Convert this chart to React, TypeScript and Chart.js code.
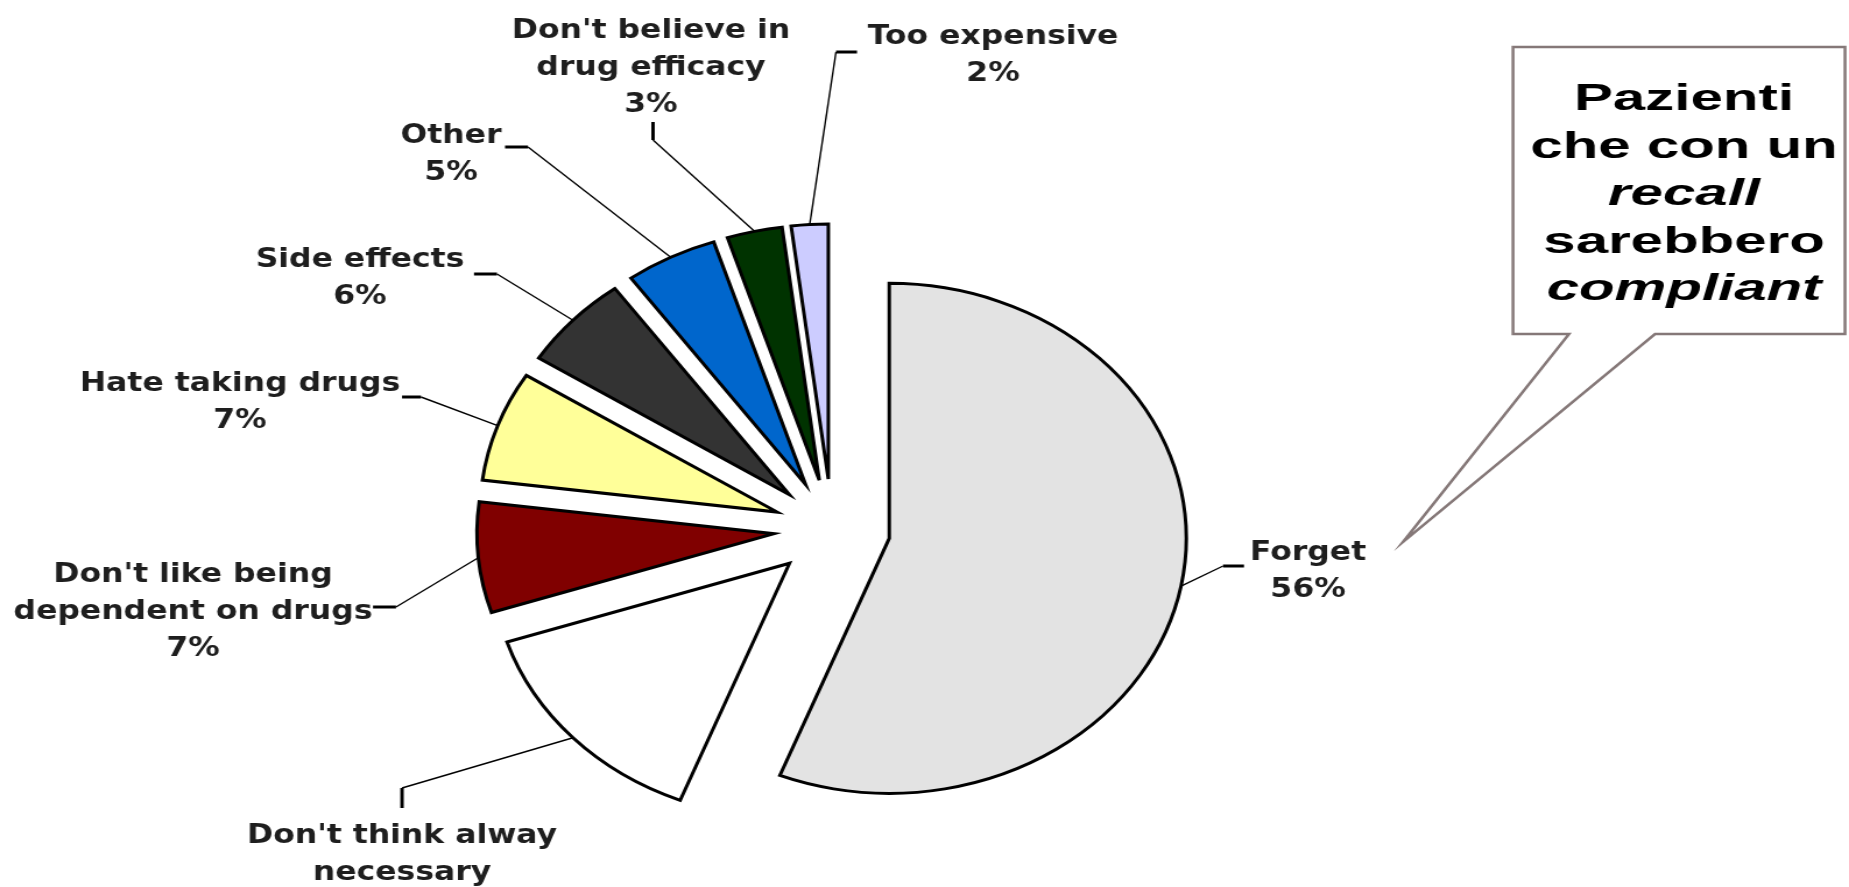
import React, { useEffect, useRef } from "react";
import { Chart, registerables } from "chart.js";

Chart.register(...registerables);

// ---- data ----
const categories = [
  "Forget",
  "Don't think alway\nnecessary",
  "Don't like being\ndependent on drugs",
  "Hate taking drugs",
  "Side effects",
  "Other",
  "Don't believe in\ndrug efficacy",
  "Too expensive",
];
const shares = [56, 14, 7, 7, 6, 5, 3, 2];
const showPercent = [true, false, true, true, true, true, true, true];
const sliceColors = ["#e3e3e3", "#ffffff", "#800000", "#ffff99", "#333333", "#0066cc", "#003300", "#ccccff"];
const calloutLines = ["Pazienti", "che con un", "recall", "sarebbero", "compliant"];
const calloutItalic = [false, false, true, false, true];

// ---- layout (page pixels) ----
const PAGE_W = 1849;
const PAGE_H = 887;
const STRETCH = 1.165;
const CANVAS_W = Math.round(PAGE_W / STRETCH);
const S = PAGE_W / CANVAS_W;
const PIE_RADIUS = 255;
const EXPLODE = 50;
const LABEL_FONT = 'bold 27px "DejaVu Sans"';
const LABEL_LINE = 37;

// text centre x, first baseline y, elbow point, tick end
const labelLayout = [
  { x: 1308, y: 560, elbow: [1223, 566], tick: [1244, 566] },
  { x: 402, y: 843, elbow: [402, 788], tick: [402, 808] },
  { x: 193, y: 582, elbow: [396, 607], tick: [373, 607] },
  { x: 240, y: 391, elbow: [421, 397], tick: [402, 397] },
  { x: 360, y: 267, elbow: [497, 274], tick: [474, 274] },
  { x: 451, y: 143, elbow: [528, 147], tick: [505, 147] },
  { x: 651, y: 38, elbow: [653, 140], tick: [653, 122] },
  { x: 993, y: 44, elbow: [836, 52], tick: [857, 52] },
];

const callout = {
  left: 1513, top: 47, right: 1845, bottom: 334,
  baseL: 1569, baseR: 1655, tipX: 1403, tipY: 542,
  textX: 1684, firstBaseline: 110, lineStep: 47.5, textScale: 1.35, fontSize: 37,
};

const px = (x: number) => x / S;

// Chart.js "offset" also grows the radius and trims the angle of each slice;
// undo those side effects so every exploded slice keeps the same radius and share.
const explodeFixPlugin = {
  id: "explodeFix",
  afterDatasetUpdate(chart: any, args: any) {
    const meta = chart.getDatasetMeta(args.index);
    meta.data.forEach((arc: any) => {
      const fix = 1 - Math.sin(Math.min(Math.PI, arc.circumference || 0));
      const off = EXPLODE * fix;
      arc.outerRadius = PIE_RADIUS - off;
      const widen = off / (Math.PI * PIE_RADIUS) / 2;
      arc.startAngle -= widen;
      arc.endAngle += widen;
    });
  },
};

const annotationPlugin = {
  id: "annotations",
  afterDatasetsDraw(chart: any) {
    const ctx: CanvasRenderingContext2D = chart.ctx;
    const meta = chart.getDatasetMeta(0);
    ctx.save();
    meta.data.forEach((arc: any, i: number) => {
      const lay = labelLayout[i];
      const mid = (arc.startAngle + arc.endAngle) / 2;
      const ex = arc.x + Math.cos(mid) * (EXPLODE + PIE_RADIUS);
      const ey = arc.y + Math.sin(mid) * (EXPLODE + PIE_RADIUS);
      ctx.strokeStyle = "#000";
      ctx.lineWidth = 1.4;
      ctx.beginPath();
      ctx.moveTo(ex, ey);
      ctx.lineTo(px(lay.elbow[0]), lay.elbow[1]);
      ctx.stroke();
      ctx.lineWidth = 3;
      ctx.beginPath();
      ctx.moveTo(px(lay.elbow[0]), lay.elbow[1]);
      ctx.lineTo(px(lay.tick[0]), lay.tick[1]);
      ctx.stroke();

      const lines = categories[i].split("\n");
      if (showPercent[i]) lines.push(shares[i] + "%");
      ctx.fillStyle = "#1e1e1e";
      ctx.font = LABEL_FONT;
      ctx.textAlign = "center";
      ctx.textBaseline = "alphabetic";
      lines.forEach((t, k) => ctx.fillText(t, px(lay.x), lay.y + k * LABEL_LINE));
    });

    // callout box
    const c = callout;
    ctx.beginPath();
    ctx.moveTo(px(c.left), c.top);
    ctx.lineTo(px(c.right), c.top);
    ctx.lineTo(px(c.right), c.bottom);
    ctx.lineTo(px(c.baseR), c.bottom);
    ctx.lineTo(px(c.tipX), c.tipY);
    ctx.lineTo(px(c.baseL), c.bottom);
    ctx.lineTo(px(c.left), c.bottom);
    ctx.closePath();
    ctx.fillStyle = "#ffffff";
    ctx.fill();
    ctx.strokeStyle = "#857878";
    ctx.lineWidth = 2.5;
    ctx.lineJoin = "miter";
    ctx.stroke();

    ctx.fillStyle = "#000";
    ctx.textAlign = "center";
    ctx.textBaseline = "alphabetic";
    calloutLines.forEach((t, k) => {
      ctx.save();
      ctx.translate(px(c.textX), c.firstBaseline + k * c.lineStep);
      ctx.scale(c.textScale, 1);
      ctx.font = (calloutItalic[k] ? "italic " : "") + "bold " + c.fontSize + 'px "Liberation Sans", Arial, sans-serif';
      ctx.fillText(t, 0, 0);
      ctx.restore();
    });
    ctx.restore();
  },
};

export default function App() {
  const ref = useRef<HTMLCanvasElement | null>(null);

  useEffect(() => {
    if (!ref.current) return;
    const padRight = CANVAS_W - 2 * px(832);
    const padTop = 2 * 529 - PAGE_H;
    const chart = new Chart(ref.current, {
      type: "pie",
      data: {
        labels: categories.map((c) => c.replace("\n", " ")),
        datasets: [
          {
            data: shares,
            backgroundColor: sliceColors,
            borderColor: "#000000",
            borderWidth: 3,
            borderJoinStyle: "miter",
            offset: EXPLODE * 4,
            radius: PIE_RADIUS,
          } as any,
        ],
      },
      options: {
        responsive: false,
        animation: false,
        events: [],
        layout: { padding: { left: 0, right: padRight, top: padTop, bottom: 0 } },
        plugins: {
          legend: { display: false },
          tooltip: { enabled: false },
          title: { display: false },
        },
      } as any,
      plugins: [explodeFixPlugin, annotationPlugin],
    });
    return () => chart.destroy();
  }, []);

  return (
    <div style={{ position: "absolute", left: 0, top: 0, width: PAGE_W, height: PAGE_H, background: "#fff", overflow: "hidden" }}>
      <canvas
        ref={ref}
        width={CANVAS_W}
        height={PAGE_H}
        style={{ width: PAGE_W + "px", height: PAGE_H + "px", display: "block" }}
      />
    </div>
  );
}
